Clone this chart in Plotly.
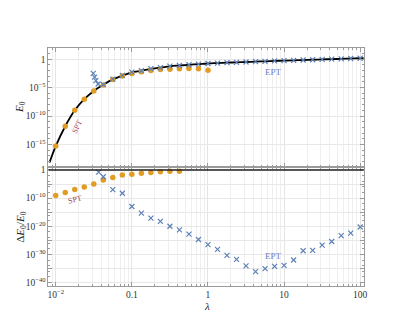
import plotly.graph_objects as go

# ---------------- data ----------------
lam_grid = [0.01, 0.01334, 0.01778, 0.02371, 0.03162, 0.04217, 0.05623, 0.07499,
            0.1, 0.1334, 0.1778, 0.2371, 0.3162, 0.4217, 0.5623, 0.7499,
            1.0, 1.334, 1.778, 2.371, 3.162, 4.217, 5.623, 7.499,
            10.0, 13.34, 17.78, 23.71, 31.62, 42.17, 56.23, 74.99, 100.0]

# exact ground-state energy (black curve)
curve_lam = [0.00828] + lam_grid + [111.4]
curve_E0 = [6.5e-19, 5.2e-16, 1.6e-12, 1.0e-9, 9.3e-8, 2.6e-6, 3.2e-5, 2.8e-4, 1.3e-3,
            5.0e-3, 9.3e-3, 2.0e-2, 3.2e-2, 5.6e-2, 7.9e-2, 0.105, 0.135,
            0.178, 0.209, 0.245, 0.288, 0.324, 0.380, 0.427, 0.501,
            0.575, 0.646, 0.724, 0.813, 0.933, 1.05, 1.17, 1.32, 1.48, 1.55]

# SPT (orange dots), top panel
spt_lam_top = lam_grid[:17]
spt_E0 = [5.2e-16, 1.6e-12, 1.0e-9, 9.3e-8, 2.6e-6, 3.0e-5, 2.6e-4, 1.07e-3,
          3.2e-3, 6.3e-3, 1.07e-2, 1.58e-2, 1.8e-2, 2.1e-2, 2.4e-2, 2.1e-2, 1.2e-2]

# EPT (blue crosses), top panel
ept_lam_top = [0.0311, 0.0324, 0.0337, 0.0361] + lam_grid[5:]
ept_E0 = [3.2e-3, 7.2e-4, 1.7e-4, 4.4e-5,
          3.4e-5, 3.1e-4, 1.45e-3, 5.4e-3, 9.5e-3, 2.1e-2, 3.2e-2, 6.0e-2,
          7.9e-2, 0.105, 0.135, 0.178, 0.209, 0.245, 0.288, 0.324, 0.380,
          0.427, 0.501, 0.575, 0.646, 0.724, 0.813, 0.933, 1.05, 1.17, 1.32, 1.48]

# relative errors, bottom panel
spt_lam_bot = lam_grid[:14]
spt_rel = [8.3e-10, 9.3e-9, 1.07e-7, 8.7e-7, 1.0e-5, 2.6e-4, 2.3e-3, 1.5e-2,
           3.3e-2, 7.4e-2, 0.13, 0.23, 0.38, 0.38]

ept_lam_bot = [0.0366] + lam_grid[5:]
ept_rel = [0.17, 4.1e-3, 1.1e-7, 5.4e-9, 1.1e-13, 4.8e-16, 8.3e-18, 5.8e-19,
           1.0e-20, 5.0e-22, 1.6e-23, 2.0e-25, 3.2e-27, 6.3e-29, 4.5e-31,
           1.7e-32, 8.3e-35, 7.9e-37, 9.1e-36, 5.9e-35, 1.35e-34, 1.07e-32,
           2.0e-29, 2.6e-29, 2.0e-27, 3.8e-26, 4.9e-24, 3.5e-23, 5.6e-21]

ref_ratio = 1.0

x_tickvals = [0.01, 0.1, 1, 10, 100]
x_ticktext = ["10<sup>−2</sup>", "0.1", "1", "10", "100"]
top_tickvals = [1, 1e-5, 1e-10, 1e-15]
top_ticktext = ["1", "10<sup>−5</sup>", "10<sup>−10</sup>", "10<sup>−15</sup>"]
bot_tickvals = [1, 1e-5, 1e-10, 1e-15, 1e-20, 1e-25, 1e-30, 1e-35, 1e-40]
bot_ticktext = ["1", "", "10<sup>−10</sup>", "", "10<sup>−20</sup>", "",
                "10<sup>−30</sup>", "", "10<sup>−40</sup>"]

# ---------------- styling ----------------
W, H = 399, 319
ORANGE = "#E19C24"
BLUE = "#5E81B5"
FONT = "Liberation Serif"
FRAME = "#9a9a9a"
GRID = "#efefef"

x_minor = [m * 10.0 ** e for e in range(-3, 3) for m in range(2, 10)]
y_minor_top = [10.0 ** e for e in range(-20, 3)]
y_minor_bot = [10.0 ** e for e in range(-42, 2, 2)]

fig = go.Figure()

fig.add_trace(go.Scatter(x=curve_lam, y=curve_E0, mode="lines", line=dict(color="black", width=1.8, shape="spline"),
                         xaxis="x", yaxis="y", showlegend=False, hoverinfo="skip"))
fig.add_trace(go.Scatter(x=spt_lam_top, y=spt_E0, mode="markers",
                         marker=dict(color=ORANGE, size=5.5, symbol="circle"),
                         xaxis="x", yaxis="y", showlegend=False))
fig.add_trace(go.Scatter(x=ept_lam_top, y=ept_E0, mode="markers",
                         marker=dict(color=BLUE, size=5, symbol="x-thin", line=dict(color=BLUE, width=1.2)),
                         xaxis="x", yaxis="y", showlegend=False))
fig.add_trace(go.Scatter(x=spt_lam_bot, y=spt_rel, mode="markers",
                         marker=dict(color=ORANGE, size=5.5, symbol="circle"),
                         xaxis="x2", yaxis="y2", showlegend=False))
fig.add_trace(go.Scatter(x=ept_lam_bot, y=ept_rel, mode="markers",
                         marker=dict(color=BLUE, size=5, symbol="x-thin", line=dict(color=BLUE, width=1.2)),
                         xaxis="x2", yaxis="y2", showlegend=False))

xdom = [40 / W, 359.3 / W]
ydom_top = [(H - 159.3) / H, (H - 39.7) / H]
ydom_bot = [(H - 279.3) / H, (H - 159.3) / H]

common_x = dict(type="log", range=[-2.095, 2.047], domain=xdom,
                showline=True, linecolor=FRAME, linewidth=1, mirror="allticks",
                ticks="inside", ticklen=4, tickcolor=FRAME,
                tickvals=x_tickvals, showgrid=True, gridcolor="#e4e4e4", gridwidth=1,
                minor=dict(tickvals=x_minor, ticks="inside", ticklen=2, tickcolor=FRAME,
                           showgrid=True, gridcolor=GRID, gridwidth=1),
                zeroline=False, tickfont=dict(family=FONT, size=9.5, color="#333"))

fig.update_layout(
    width=W, height=H, margin=dict(l=0, r=0, t=0, b=0),
    paper_bgcolor="white", plot_bgcolor="white", showlegend=False,
    xaxis=dict(common_x, anchor="y", showticklabels=False),
    xaxis2=dict(common_x, anchor="y2", ticktext=x_ticktext, showticklabels=True),
    yaxis=dict(type="log", range=[-18.94, 1.92], domain=ydom_top, anchor="x",
               showline=True, linecolor=FRAME, linewidth=1, mirror="allticks",
               ticks="inside", ticklen=4, tickcolor=FRAME,
               tickvals=top_tickvals, ticktext=top_ticktext,
               showgrid=True, gridcolor="#e8e8e8",
               minor=dict(tickvals=y_minor_top, ticks="inside", ticklen=2, tickcolor=FRAME, showgrid=False),
               zeroline=False, tickfont=dict(family=FONT, size=9.5, color="#333")),
    yaxis2=dict(type="log", range=[-41.1, 1.13], domain=ydom_bot, anchor="x2",
                showline=True, linecolor=FRAME, linewidth=1, mirror="allticks",
                ticks="inside", ticklen=4, tickcolor=FRAME,
                tickvals=bot_tickvals, ticktext=bot_ticktext,
                showgrid=True, gridcolor="#e8e8e8",
                minor=dict(tickvals=y_minor_bot, ticks="inside", ticklen=2, tickcolor=FRAME, showgrid=False),
                zeroline=False, tickfont=dict(family=FONT, size=9.5, color="#333")),
)

fig.add_shape(type="line", xref="x2 domain", yref="y2", x0=0, x1=1, y0=ref_ratio, y1=ref_ratio,
              line=dict(color="#222", width=1.3))

def ann(text, px, py, size=10, color="#222", angle=0):
    fig.add_annotation(text=text, xref="paper", yref="paper", x=px / W, y=(H - py) / H,
                       showarrow=False, textangle=angle, xanchor="center", yanchor="middle",
                       font=dict(family=FONT, size=size, color=color))

ann("<i>E</i><sub>0</sub>", 11, 99, size=11, angle=-90)
ann("Δ<i>E</i><sub>0</sub>/<i>E</i><sub>0</sub>", 12, 220, size=11, angle=-90)
ann("<i>λ</i>", 201, 300, size=11)
ann("SPT", 69, 118.5, size=8, color="#A3445F", angle=-65)
ann("SPT", 67, 192.5, size=8, color="#A3445F", angle=-15)
ann("EPT", 268, 64, size=9, color="#6F80BF")
ann("EPT", 268, 249, size=9, color="#6F80BF")

fig.write_html("out.html", config=dict(displayModeBar=False))
